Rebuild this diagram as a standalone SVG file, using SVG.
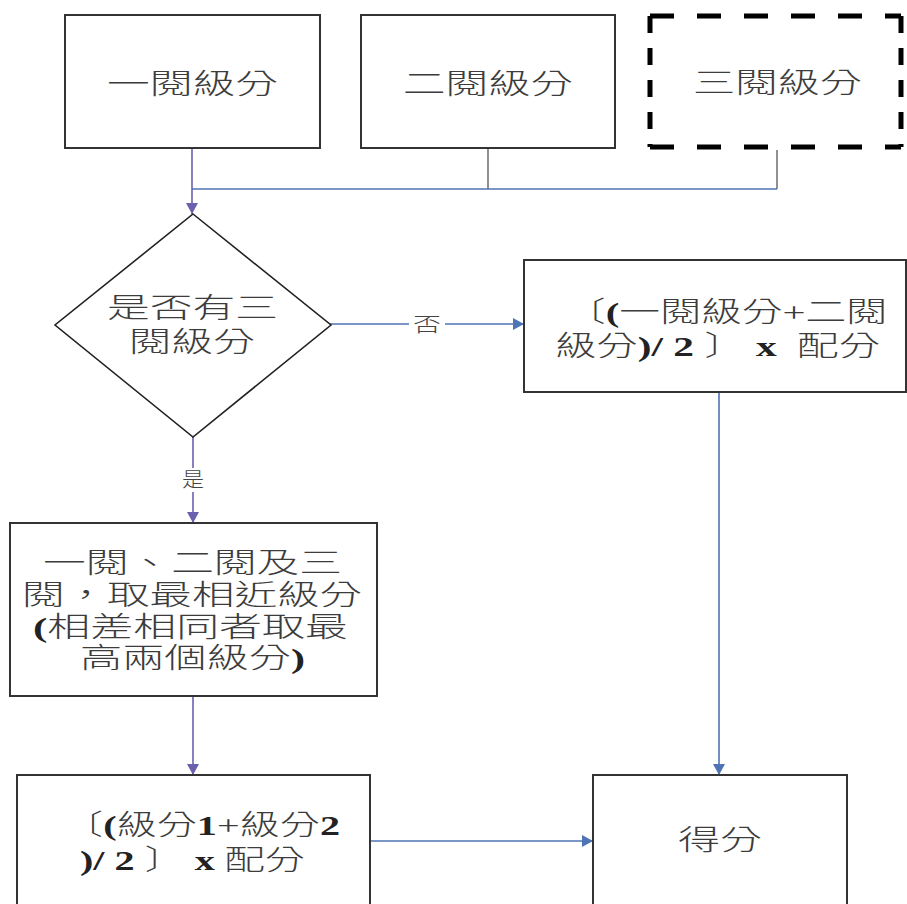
<svg xmlns="http://www.w3.org/2000/svg" width="907" height="904" viewBox="0 0 907 904">
<style>
.box{fill:#fff;stroke:#333;stroke-width:2}
.dia{fill:#fff;stroke:#222;stroke-width:1.6}
.dash{fill:none;stroke:#000;stroke-width:5}
.t{font-family:"Liberation Serif","Noto Sans CJK TC",serif;font-size:28px;font-weight:300;fill:#3c3c3c;white-space:pre}
.b{font-weight:bold;fill:#222}
.lbl{font-family:"Liberation Serif","Noto Sans CJK TC",serif;font-size:20px;font-weight:300;fill:#444}
.cb{fill:none;stroke:#4f74b6;stroke-width:1.6}
.cp{fill:none;stroke:#6a61ae;stroke-width:1.6}
.cg{fill:none;stroke:#555;stroke-width:1.3}
</style>
<defs>
<marker id="ab" markerUnits="userSpaceOnUse" markerWidth="12" markerHeight="12" refX="11" refY="6" orient="auto"><path d="M0,0 L11,6 L0,12 z" fill="#4f74b6"/></marker>
<marker id="ap" markerUnits="userSpaceOnUse" markerWidth="12" markerHeight="12" refX="11" refY="6" orient="auto"><path d="M0,0 L11,6 L0,12 z" fill="#6a61ae"/></marker>
</defs>
<rect width="907" height="904" fill="#fff"/>

<g id="connectors">
<path class="cg" d="M488,148 V189"/>
<path class="cg" d="M777,150 V189"/>
<path class="cb" d="M777,189 H192"/>
<path class="cp" d="M192,148 V214" marker-end="url(#ap)"/>
<path class="cb" d="M330,324 H524" marker-end="url(#ab)"/>
<rect x="409" y="312" width="36" height="26" fill="#fff"/>
<text class="lbl" x="413" y="332" textLength="28" lengthAdjust="spacingAndGlyphs">否</text>
<path class="cp" d="M193,437 V523" marker-end="url(#ap)"/>
<rect x="180" y="468" width="26" height="24" fill="#fff"/>
<text class="lbl" x="182" y="487" textLength="22" lengthAdjust="spacingAndGlyphs">是</text>
<path class="cp" d="M193,696 V775" marker-end="url(#ap)"/>
<path class="cb" d="M719,392 V775" marker-end="url(#ab)"/>
<path class="cb" d="M370,841 H593" marker-end="url(#ab)"/>
</g>

<g id="n1">
<rect class="box" x="65" y="15" width="255" height="133"/>
<text class="t" x="107" y="94" textLength="171" lengthAdjust="spacingAndGlyphs">一閱級分</text>
</g>
<g id="n2">
<rect class="box" x="361" y="15" width="254" height="133"/>
<text class="t" x="403" y="94" textLength="170" lengthAdjust="spacingAndGlyphs">二閱級分</text>
</g>
<g id="n3">
<rect x="650" y="16" width="251" height="131" fill="#fff"/>
<path class="dash" d="M650,16 H901 M650,147 H901" stroke-dasharray="24 23"/>
<path class="dash" d="M650,16 V147 M901,16 V147" stroke-dasharray="17 15"/>
<text class="t" x="693" y="93" textLength="169" lengthAdjust="spacingAndGlyphs">三閱級分</text>
</g>
<g id="n4">
<polygon class="dia" points="193,214 331,325 193,437 55,325"/>
<text class="t" x="107" y="318" textLength="171" lengthAdjust="spacingAndGlyphs">是否有三</text>
<text class="t" x="129" y="352" textLength="126" lengthAdjust="spacingAndGlyphs">閱級分</text>
</g>
<g id="n5">
<rect class="box" x="524" y="260" width="382" height="132"/>
<text class="t" x="565" y="322" textLength="322" lengthAdjust="spacingAndGlyphs">〔<tspan class="b">(</tspan>一閱級分+二閱</text>
<text class="t" x="555" y="356" textLength="325" lengthAdjust="spacingAndGlyphs">級分<tspan class="b">)/ 2 </tspan>〕 <tspan class="b">x</tspan>  配分</text>
</g>
<g id="n6">
<rect class="box" x="10" y="523" width="367" height="173"/>
<text class="t" x="43" y="573" textLength="299" lengthAdjust="spacingAndGlyphs">一閱、二閱及三</text>
<text class="t" x="22" y="605" textLength="340" lengthAdjust="spacingAndGlyphs">閱，取最相近級分</text>
<text class="t" x="33" y="637" textLength="315" lengthAdjust="spacingAndGlyphs"><tspan class="b">(</tspan>相差相同者取最</text>
<text class="t" x="80" y="668" textLength="225" lengthAdjust="spacingAndGlyphs">高兩個級分<tspan class="b">)</tspan></text>
</g>
<g id="n7">
<rect class="box" x="17" y="775" width="353" height="150"/>
<text class="t" x="63" y="835" textLength="277" lengthAdjust="spacingAndGlyphs">〔<tspan class="b">(</tspan>級分<tspan class="b">1</tspan>+級分<tspan class="b">2</tspan></text>
<text class="t" x="80" y="870" textLength="225" lengthAdjust="spacingAndGlyphs"><tspan class="b">)/ 2 </tspan>〕 <tspan class="b">x </tspan>配分</text>
</g>
<g id="n8">
<rect class="box" x="593" y="775" width="254" height="150"/>
<text class="t" x="678" y="850" textLength="84" lengthAdjust="spacingAndGlyphs">得分</text>
</g>
</svg>
